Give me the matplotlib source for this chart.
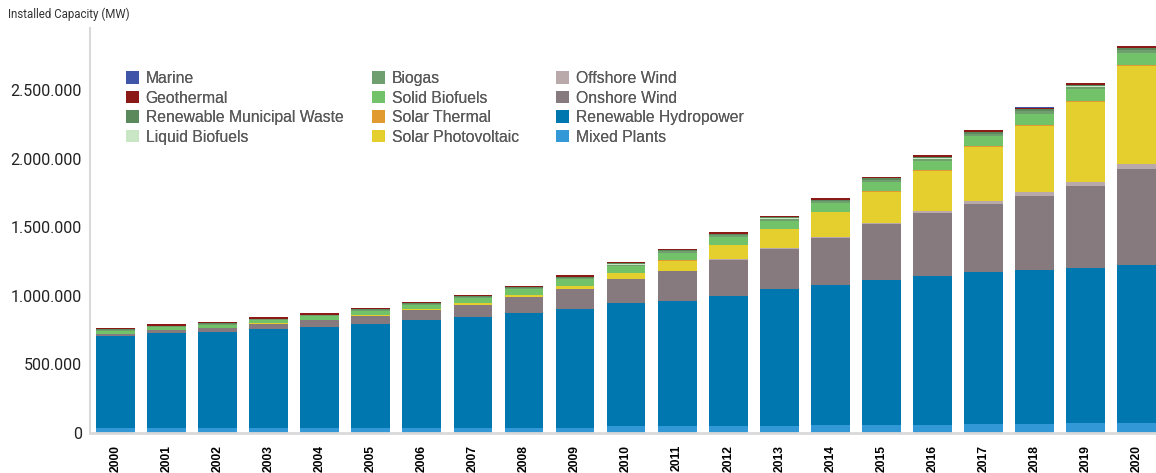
import numpy as np
import matplotlib
matplotlib.use('Agg')
import matplotlib.pyplot as plt

# installed capacity per year, in thousand MW
years = [str(y) for y in range(2000, 2021)]

mixed_plants = [30, 30, 30, 30, 30, 31, 31, 31, 31, 32, 50, 50, 51, 51, 52, 52, 53, 65, 65, 66, 66]
hydropower = [674, 694, 701, 725, 742, 763, 788, 810, 843, 867, 893, 912, 948, 994, 1027, 1059, 1092, 1104, 1121, 1137, 1157]
onshore_wind = [17, 24, 31, 39, 47, 58, 73, 91, 114, 148, 176, 215, 262, 294, 343, 410, 458, 500, 543, 598, 702]
offshore_wind = [0.07, 0.1, 0.25, 0.5, 0.6, 0.7, 0.9, 1.1, 1.5, 2.1, 3.1, 4.1, 5.4, 7.1, 8.6, 12, 15, 19, 24, 29, 35]
solar_pv = [0.8, 1.2, 1.8, 2.6, 3.7, 5.1, 6.6, 9, 15, 23, 41, 74, 102, 138, 176, 223, 290, 395, 488, 584, 715]
solar_thermal = [0.35, 0.35, 0.35, 0.35, 0.35, 0.35, 0.4, 0.43, 0.5, 0.7, 1.3, 1.6, 2.5, 3.6, 4.5, 4.7, 4.9, 5.1, 5.6, 6.2, 6.5]
solid_biofuels = [22.0, 22.5, 23.0, 24.2, 26.3, 29.2, 33.5, 37.6, 41.0, 46.0, 50.2, 54.0, 56.5, 59.7, 63.6, 66.5, 70.2, 73.8, 79.0, 84.2, 89.8]
biogas = [3.5, 3.7, 4.0, 4.3, 4.7, 5.3, 6.1, 7.0, 7.8, 8.9, 10.0, 11.3, 12.4, 13.6, 14.6, 15.6, 16.7, 17.6, 18.6, 19.3, 20.0]
liquid_biofuels = [0.6, 0.6, 0.6, 0.7, 0.8, 0.9, 1.1, 1.4, 1.6, 1.8, 2.0, 2.1, 2.2, 2.3, 2.4, 2.5, 2.5, 2.6, 2.6, 2.6, 2.6]
municipal_waste = [4.3, 4.4, 4.5, 4.7, 5.0, 5.3, 5.7, 6.1, 6.4, 6.8, 7.4, 7.8, 7.9, 8.1, 8.6, 9.1, 9.9, 10.8, 12.1, 13.5, 15.0]
geothermal = [8.3, 8.5, 8.6, 8.8, 8.9, 9.0, 9.3, 9.6, 9.9, 10.2, 10.1, 10.3, 10.5, 10.8, 11.3, 11.8, 12.2, 12.7, 13.2, 13.9, 14.1]
marine = [0.27, 0.27, 0.27, 0.27, 0.27, 0.27, 0.27, 0.27, 0.27, 0.27, 0.29, 0.5, 0.51, 0.51, 0.53, 0.53, 0.53, 0.53, 0.53, 0.53, 0.53]

# bottom to top
series = [
    ('Mixed Plants', mixed_plants, '#3399d6'),
    ('Renewable Hydropower', hydropower, '#0077ae'),
    ('Onshore Wind', onshore_wind, '#877a7e'),
    ('Offshore Wind', offshore_wind, '#b9a9ab'),
    ('Solar Photovoltaic', solar_pv, '#e5cf2e'),
    ('Solar Thermal', solar_thermal, '#e09a30'),
    ('Solid Biofuels', solid_biofuels, '#72c26a'),
    ('Biogas', biogas, '#6f9f6f'),
    ('Liquid Biofuels', liquid_biofuels, '#c8e6c4'),
    ('Renewable Municipal Waste', municipal_waste, '#5a8a5c'),
    ('Geothermal', geothermal, '#8b1a17'),
    ('Marine', marine, '#3f55a8'),
]

fig = plt.figure(figsize=(11.56, 4.73), dpi=100)
ax = fig.add_axes([90 / 1156, 1 - 432.5 / 473, 1 - 90 / 1156, (432.5 - 28) / 473])

x = np.arange(len(years))
bottom = np.zeros(len(years))
handles = {}
for name, vals, col in series:
    v = np.array(vals) * 1000
    b = ax.bar(x, v, 0.76, bottom=bottom, color=col, linewidth=0, label=name)
    handles[name] = b
    bottom += v

ax.set_xlim(-0.5, 20.38)
ax.set_ylim(0, 2.953e6)
yt = [0, 500000, 1000000, 1500000, 2000000, 2500000]
ax.set_yticks(yt)
ax.set_yticklabels([f'{t:,}'.replace(',', '.') for t in yt], fontsize=11.5,
                   family=['Roboto', 'DejaVu Sans'], color='#222222')
ax.set_xticks(x)
ax.set_xticklabels(years, rotation=90, fontsize=8.7, fontweight='bold',
                   family=['Liberation Sans', 'DejaVu Sans'], color='black')
ax.tick_params(axis='y', length=0, pad=6)
ax.tick_params(axis='x', length=0, pad=9)
for s in ['top', 'right']:
    ax.spines[s].set_visible(False)
ax.spines['left'].set_color('#d9d9d9')
ax.spines['left'].set_linewidth(1.5)
ax.spines['bottom'].set_color('#d9d9d9')
ax.spines['bottom'].set_linewidth(2)

fig.text(8 / 1156, 1 - 14 / 473, 'Installed Capacity (MW)', fontsize=8.3, color='#333333',
         va='center', ha='left', family=['Roboto', 'DejaVu Sans'])

# three legend columns, reversed stacking order
names = [s[0] for s in series][::-1]
cols = [names[0:4], names[4:8], names[8:12]]
lx = [126, 372, 556]
for i, group in enumerate(cols):
    leg = fig.legend([handles[n] for n in group], group, loc='upper left',
                     bbox_to_anchor=(lx[i] / 1156, 1 - 71 / 473), frameon=False,
                     prop={'family': ['Liberation Sans', 'DejaVu Sans'], 'size': 11.3},
                     labelcolor='#595959', handlelength=0.85, handleheight=0.85,
                     handletextpad=0.4, labelspacing=0.29, borderpad=0, borderaxespad=0)
    fig.add_artist(leg)

fig.savefig('out.png', dpi=100)
